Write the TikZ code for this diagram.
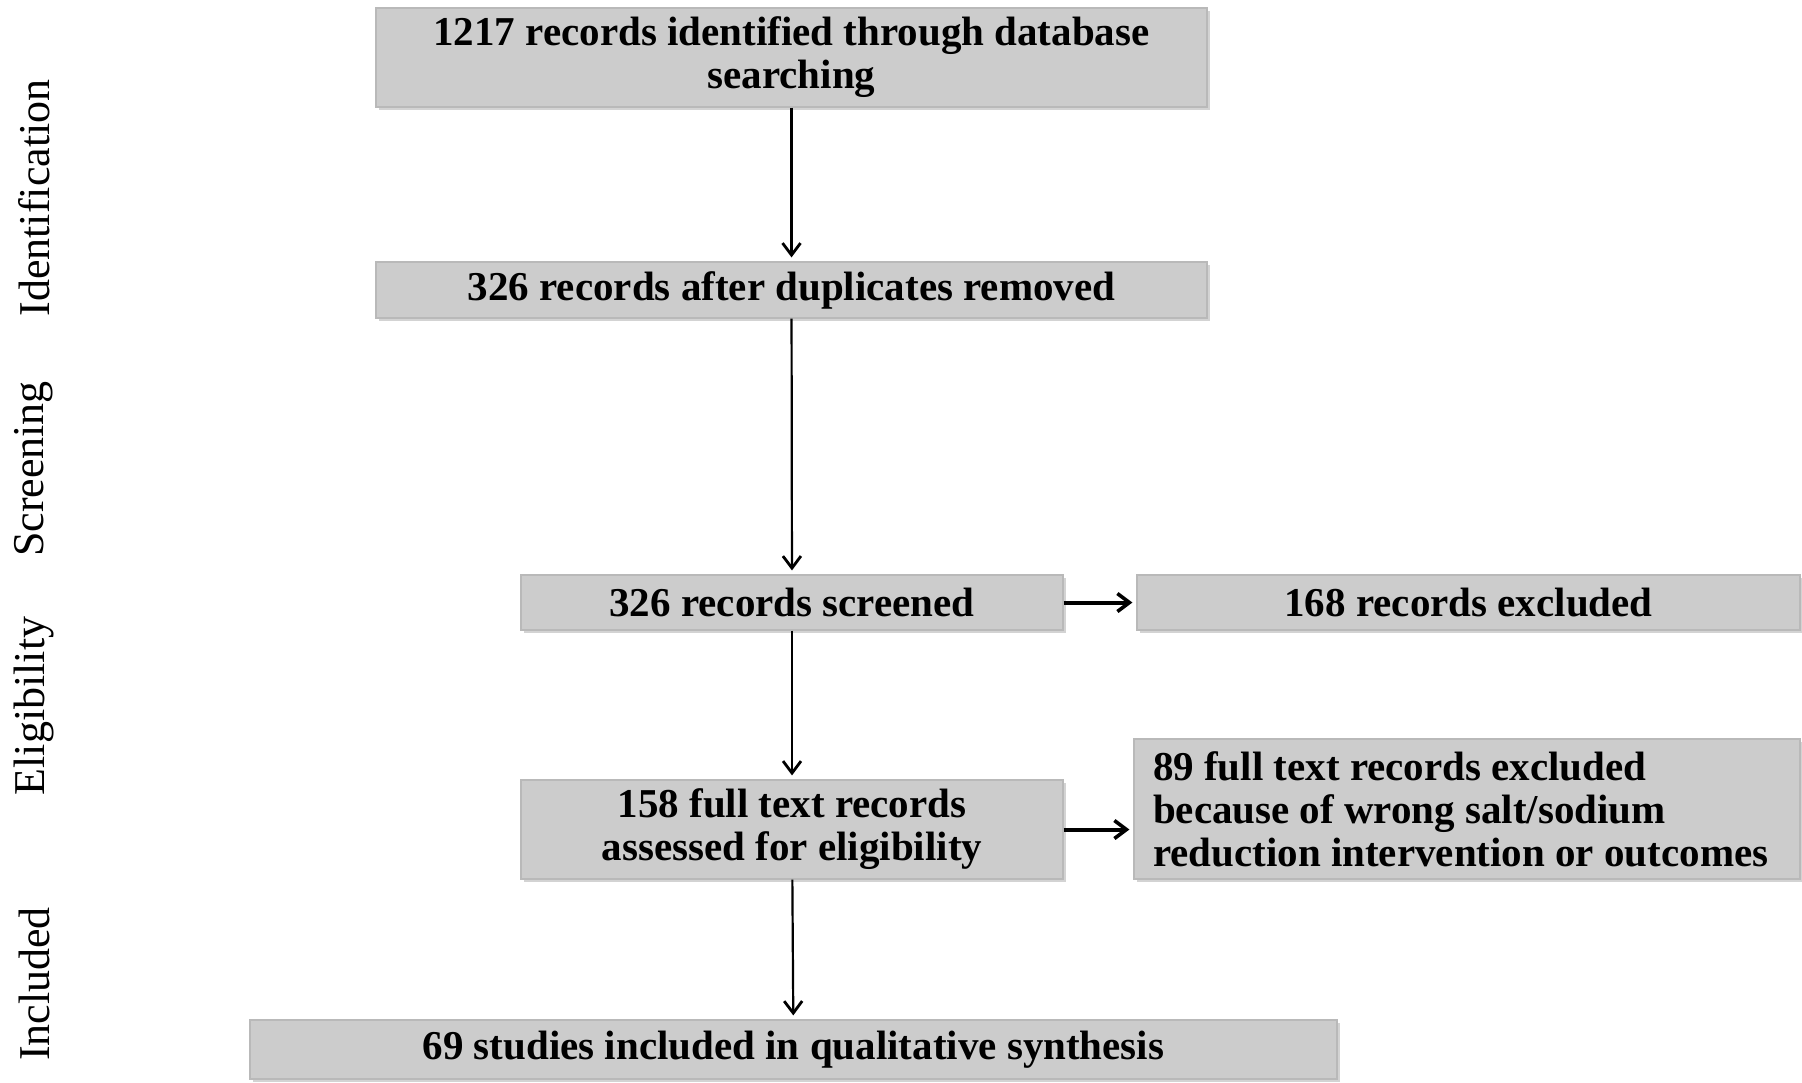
\documentclass[tikz,border=0pt]{standalone}
\usepackage{fontspec}
\setmainfont{Liberation Serif}
\usepackage{tikz}
\usetikzlibrary{arrows.meta,shadows}

\begin{document}
\begin{tikzpicture}[x=0.5pt,y=-0.5pt,
  stagebox/.style={draw=gray!55,fill=gray!40,line width=0.6pt,inner sep=0pt,
    align=center,font=\fontsize{20.5}{21.5}\selectfont\bfseries,
    drop shadow={opacity=0.35,shadow xshift=1.5pt,shadow yshift=-1.5pt}},
  phase/.style={rotate=90,font=\fontsize{22}{24}\selectfont},
  flow/.style={-{Straight Barb[length=6pt,width=9pt,line width=1.4pt]},line width=1.1pt,shorten >=2pt},
  sideflow/.style={-{Straight Barb[length=6pt,width=9pt,line width=1.8pt]},line width=2pt,shorten >=2pt}]

\useasboundingbox (0,0) rectangle (1802,1082);

% Stage labels on the left
\node[phase] (ident) at (34,198) {Identification};
\node[phase] (screen) at (34,469) {Screening};
\node[phase] (elig) at (34,706) {Eligibility};
\node[phase] (incl) at (34,984) {Included};

% Boxes of the flow
\node[stagebox,minimum width=415.5pt,minimum height=49.5pt] (found) at (791.5,57.5)
  {1217 records identified through database\\searching};
\node[stagebox,minimum width=415.5pt,minimum height=28pt] (dedup) at (791.5,290)
  {326 records after duplicates removed};
\node[stagebox,minimum width=271pt,minimum height=27.5pt] (screened) at (792,602.5)
  {326 records screened};
\node[stagebox,minimum width=331.5pt,minimum height=27.5pt] (excl) at (1468.5,602.5)
  {168 records excluded};
\node[stagebox,minimum width=271pt,minimum height=49.5pt] (fulltext) at (792,829.5)
  {158 full text records\\assessed for eligibility};
\node[stagebox,minimum width=333pt,minimum height=70pt,align=flush left,text width=314pt] (ftexcl) at (1467,809)
  {89 full text records excluded\\because of wrong salt/sodium\\reduction intervention or outcomes};
\node[stagebox,minimum width=543.5pt,minimum height=29.5pt] (result) at (793.5,1049.5)
  {69 studies included in qualitative synthesis};

% Arrows
\draw[flow] (found) -- (dedup);
\draw[flow] (dedup) -- (screened);
\draw[flow] (screened) -- (fulltext);
\draw[flow] (fulltext) -- (result);
\draw[sideflow] (screened) -- (excl);
\draw[sideflow] (fulltext.east) -- (ftexcl.west |- fulltext.east);

\end{tikzpicture}
\end{document}
